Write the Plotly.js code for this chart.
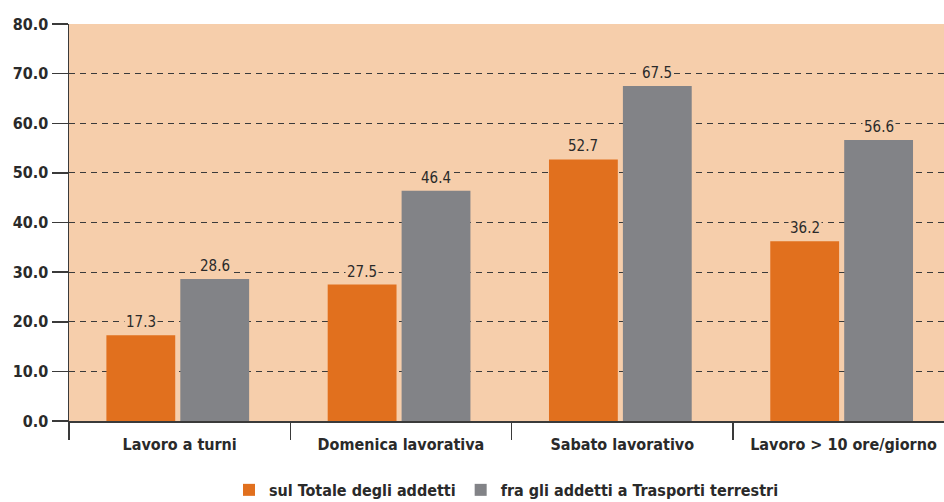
<!DOCTYPE html>
<html>
<head>
<meta charset="utf-8">
<script src="https://cdn.plot.ly/plotly-3.0.1.min.js"></script>
<style>html,body{margin:0;padding:0;background:#fff;}#chart{width:944px;height:502px;}</style>
</head>
<body>
<div id="chart"></div>
<script>
const categories = ["Lavoro a turni", "Domenica lavorativa", "Sabato lavorativo", "Lavoro > 10 ore/giorno"];
const seriesNames = ["sul Totale degli addetti", "fra gli addetti a Trasporti terrestri"];
const totale = [17.3, 27.5, 52.7, 36.2];
const trasporti = [28.6, 46.4, 67.5, 56.6];
const yTickVals = [0, 10, 20, 30, 40, 50, 60, 70, 80];

const FONT = '"DejaVu Sans Condensed", "DejaVu Sans", sans-serif';
const BG = '#F6CEAB';
const ORANGE = '#E1701E';
const GRAY = '#828387';

const traces = [
  {type: 'bar', name: seriesNames[0], x: categories, y: totale, offset: -0.331, width: 0.311,
   marker: {color: ORANGE}, hoverinfo: 'none'},
  {type: 'bar', name: seriesNames[1], x: categories, y: trasporti, offset: 0.003, width: 0.311,
   marker: {color: GRAY}, hoverinfo: 'none'}
];

const annotations = [];
[[totale, -39], [trasporti, 35]].forEach(([vals, shift]) => {
  vals.forEach((v, i) => {
    annotations.push({
      x: categories[i], y: v, xref: 'x', yref: 'y',
      text: v.toFixed(1), showarrow: false,
      xshift: shift, yanchor: 'bottom', yshift: 2,
      bgcolor: BG, borderpad: 1,
      font: {family: FONT, size: 15, color: '#2a2a2a'}
    });
  });
});

const layout = {
  width: 944, height: 502,
  margin: {l: 69, r: 0, t: 24, b: 81},
  paper_bgcolor: '#ffffff',
  plot_bgcolor: BG,
  barmode: 'group',
  showlegend: true,
  legend: {
    orientation: 'h', x: 0.5, xanchor: 'center',
    yref: 'container', y: 0.024, yanchor: 'middle',
    font: {family: FONT, size: 16, color: '#2a2a2a', weight: 'bold'},
    itemwidth: 30, traceorder: 'normal'
  },
  xaxis: {
    type: 'category',
    range: [-0.5, 3.454],
    automargin: false,
    tickangle: 0,
    tickson: 'boundaries',
    ticks: 'outside', ticklen: 17, tickwidth: 1.5, tickcolor: '#3a3a3a',
    ticklabelstandoff: 8,
    showline: true, linecolor: '#3a3a3a', linewidth: 1.5,
    showgrid: false,
    tickfont: {family: FONT, size: 16, color: '#2a2a2a', weight: 'bold'},
    fixedrange: true
  },
  yaxis: {
    range: [0, 80],
    automargin: false,
    tickvals: yTickVals,
    tickformat: '.1f',
    ticks: 'outside', ticklen: 16, tickwidth: 1.5, tickcolor: '#3a3a3a',
    showline: true, linecolor: '#3a3a3a', linewidth: 1.5,
    showgrid: true, gridcolor: '#3a3a3a', gridwidth: 1.2, griddash: '6px,5px',
    zeroline: false,
    tickfont: {family: FONT, size: 16, color: '#2a2a2a', weight: 'bold'},
    fixedrange: true
  },
  annotations: annotations
};

Plotly.newPlot('chart', traces, layout, {displayModeBar: false, staticPlot: true});
</script>
</body>
</html>
